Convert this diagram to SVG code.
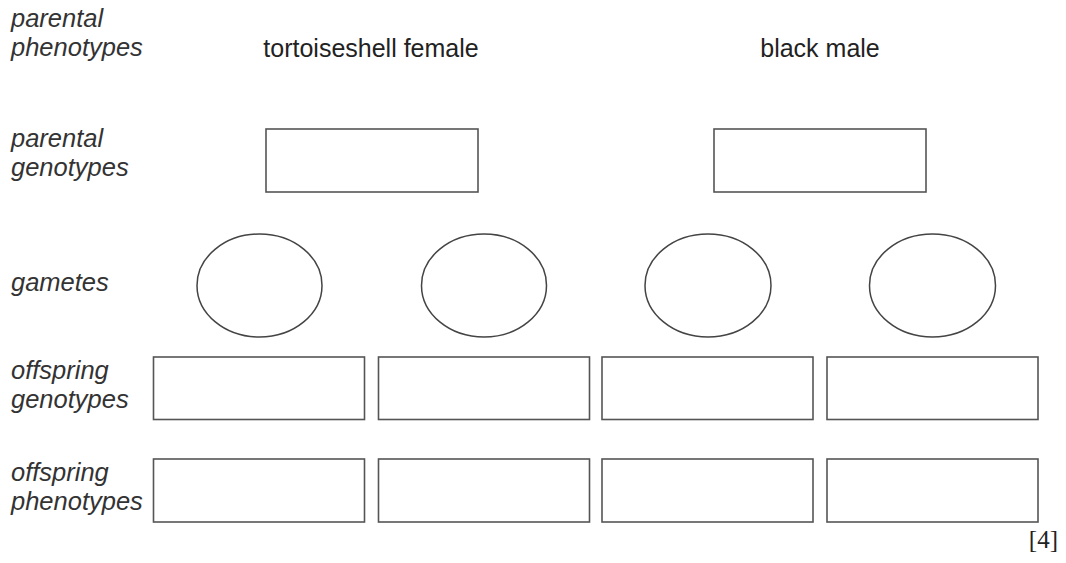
<svg xmlns="http://www.w3.org/2000/svg" width="1066" height="563" viewBox="0 0 1066 563">
<style>
.lab{font-family:"Liberation Sans",Arial,sans-serif;font-style:italic;font-size:25.5px;fill:#333}
.hd{font-family:"Liberation Sans",Arial,sans-serif;font-size:25px;fill:#222;text-anchor:middle}
.mk{font-family:"Liberation Serif","Times New Roman",serif;font-size:25px;fill:#222}
.box{fill:#fff;stroke:#555;stroke-width:1.6}
.gam{fill:#fff;stroke:#444;stroke-width:1.5}
</style>
<rect width="1066" height="563" fill="#fff"/>
<g id="labels">
<text class="lab" x="11" y="27">parental</text>
<text class="lab" x="11" y="56">phenotypes</text>
<text class="lab" x="11" y="147">parental</text>
<text class="lab" x="11" y="176">genotypes</text>
<text class="lab" x="11" y="291">gametes</text>
<text class="lab" x="11" y="379">offspring</text>
<text class="lab" x="11" y="408">genotypes</text>
<text class="lab" x="11" y="481">offspring</text>
<text class="lab" x="11" y="510">phenotypes</text>
</g>
<g id="parent-female">
<text class="hd" x="371" y="57">tortoiseshell female</text>
<rect class="box" x="266" y="129" width="212" height="63"/>
</g>
<g id="parent-male">
<text class="hd" x="820" y="57">black male</text>
<rect class="box" x="714" y="129" width="212" height="63"/>
</g>
<g id="gamete-1"><ellipse class="gam" cx="259.5" cy="285.5" rx="62.5" ry="51.5"/></g>
<g id="gamete-2"><ellipse class="gam" cx="484" cy="285.5" rx="62.5" ry="51.5"/></g>
<g id="gamete-3"><ellipse class="gam" cx="708" cy="285.5" rx="63" ry="51.5"/></g>
<g id="gamete-4"><ellipse class="gam" cx="932.5" cy="285.5" rx="63" ry="51.5"/></g>
<g id="offspring-genotypes">
<rect class="box" x="153.5" y="357" width="211" height="62.5"/>
<rect class="box" x="378.5" y="357" width="211" height="62.5"/>
<rect class="box" x="602" y="357" width="211" height="62.5"/>
<rect class="box" x="827" y="357" width="211" height="62.5"/>
</g>
<g id="offspring-phenotypes">
<rect class="box" x="153.5" y="459" width="211" height="63"/>
<rect class="box" x="378.5" y="459" width="211" height="63"/>
<rect class="box" x="602" y="459" width="211" height="63"/>
<rect class="box" x="827" y="459" width="211" height="63"/>
</g>
<g id="connectors"></g>
<text class="mk" x="1058" y="548" text-anchor="end">[4]</text>
</svg>
